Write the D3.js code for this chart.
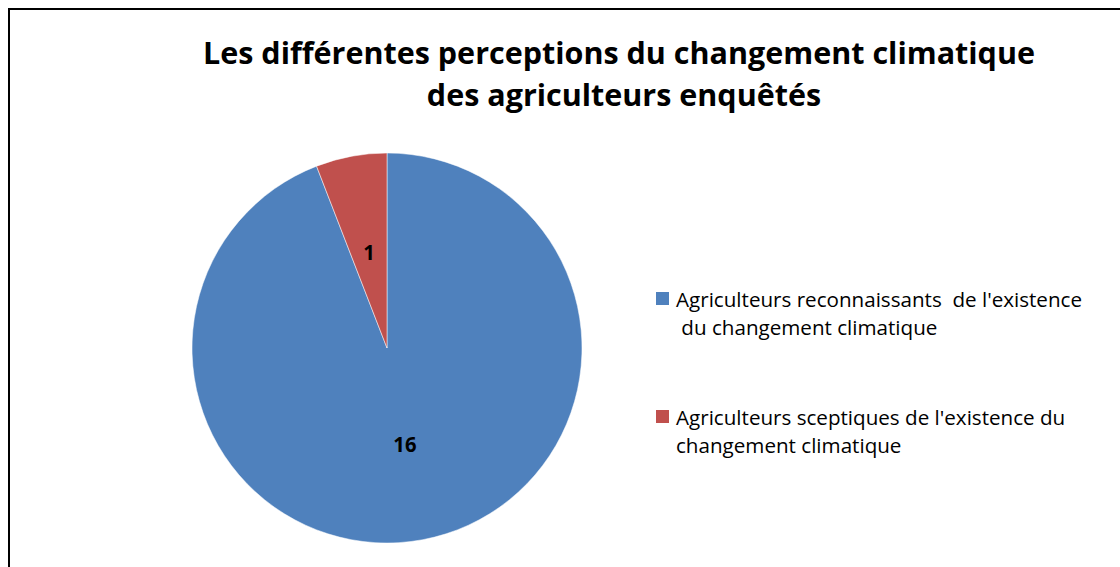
<!DOCTYPE html>
<html>
<head>
<meta charset="utf-8">
<script src="https://cdn.jsdelivr.net/npm/d3@7"></script>
<style>
  html, body { margin: 0; padding: 0; background: #fff; }
  svg text { white-space: pre; }
</style>
</head>
<body>
<svg id="chart" width="1120" height="567"></svg>
<script>
// Survey results: how the interviewed farmers perceive climate change
const categories = [
  "Agriculteurs reconnaissants  de l'existence du changement climatique",
  "Agriculteurs sceptiques de l'existence du changement climatique"
];
const counts = [16, 1];
const colors = ["#4F81BD", "#C0504D"];
const legendLines = [
  ["Agriculteurs reconnaissants  de l'existence", " du changement climatique"],
  ["Agriculteurs sceptiques de l'existence du", "changement climatique"]
];
const titleLines = [
  "Les différentes perceptions du changement climatique",
  "des agriculteurs enquêtés"
];

const svg = d3.select("#chart");
const FONT = "'Open Sans', 'Noto Sans', 'DejaVu Sans', sans-serif";

// Condense a text element horizontally by factor k (keeps its height)
function condense(sel, k) {
  const w = sel.node().getComputedTextLength();
  sel.attr("textLength", w * k).attr("lengthAdjust", "spacingAndGlyphs");
  return sel;
}

// Chart frame
svg.append("rect")
  .attr("x", 9).attr("y", 9)
  .attr("width", 1130).attr("height", 580)
  .attr("fill", "#fff")
  .attr("stroke", "#000").attr("stroke-width", 2);

// Title
const titleG = svg.append("g").attr("font-family", FONT).attr("font-weight", "bold")
  .attr("text-anchor", "middle").attr("fill", "#000");
const t1 = titleG.append("text").attr("x", 619).attr("y", 64).attr("font-size", 31).text(titleLines[0]);
const kTitle = 832 / t1.node().getComputedTextLength();
condense(t1, kTitle);
const t2 = titleG.append("text").attr("x", 624).attr("y", 106).attr("font-size", 31).text(titleLines[1]);
condense(t2, kTitle);

// Pie
const cx = 387, cy = 348, R = 195;
const pie = d3.pie().sort(null).value(d => d)(counts);
const arc = d3.arc().innerRadius(0).outerRadius(R);

const pieG = svg.append("g").attr("transform", `translate(${cx},${cy})`);
pieG.selectAll("path").data(pie).join("path")
  .attr("d", arc)
  .attr("fill", (d, i) => colors[i])
  .attr("stroke", "#fff").attr("stroke-width", 0.5);

pieG.selectAll("text").data(pie).join("text")
  .attr("transform", d => `translate(${arc.centroid(d)})`)
  .attr("text-anchor", "middle")
  .attr("dy", "0.36em")
  .attr("font-family", FONT).attr("font-weight", "bold")
  .attr("font-size", 22).attr("fill", "#000")
  .text(d => d.data)
  .each(function () { condense(d3.select(this), 0.92); });

// Legend
const legendY = [292, 410];
const legendG = svg.append("g").attr("font-family", FONT).attr("fill", "#000");
let kLegend = null;
categories.forEach((c, i) => {
  const g = legendG.append("g");
  g.append("rect").attr("x", 656).attr("y", legendY[i])
    .attr("width", 13).attr("height", 13).attr("fill", colors[i]);
  legendLines[i].forEach((line, j) => {
    const t = g.append("text").attr("x", 676).attr("y", legendY[i] + 15 + j * 28)
      .attr("font-size", 19.5).text(line);
    if (kLegend === null) kLegend = 406 / t.node().getComputedTextLength();
    condense(t, kLegend);
  });
});
</script>
</body>
</html>
